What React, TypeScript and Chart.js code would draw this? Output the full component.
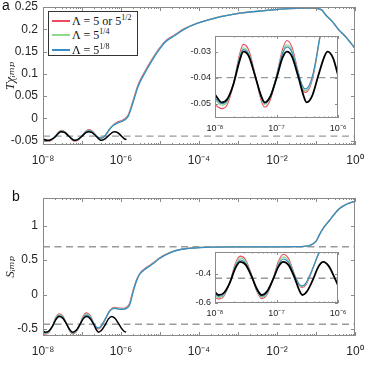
import React, { useEffect, useRef } from 'react';
import { Chart, registerables } from 'chart.js';

Chart.register(...registerables);

// ---------- data (x values are log10 of the horizontal variable) ----------
const mainXLabels = [-8, -6, -4, -2, 0];
const mainXMajor = [-8, -7, -6, -5, -4, -3, -2, -1, 0];
const insetXLabels = [-8, -7, -6];

const aYTicks = [-0.05, 0, 0.05, 0.1, 0.15, 0.2, 0.25];
const aInsetYTicks = [-0.05, -0.04, -0.03];
const bYTicks = [-0.5, 0, 0.5, 1];
const bInsetYTicks = [-0.6, -0.4];

const aRefLevels = [-0.04];
const bRefLevels = [0.693, -0.43];
const bInsetRefLevels = [-0.43];

const aBlackX = [-8.0, -7.89, -7.8, -7.7, -7.6, -7.54, -7.45, -7.35, -7.25, -7.19, -7.1, -7.0, -6.9, -6.83, -6.75, -6.65, -6.55, -6.51, -6.42, -6.32, -6.22, -6.17, -6.08, -6.0, -5.92, -5.86];
const aBlackY = [-0.0465, -0.0495, -0.0482, -0.0425, -0.0335, -0.03, -0.0318, -0.0392, -0.047, -0.0495, -0.0472, -0.0402, -0.0322, -0.03, -0.0318, -0.0393, -0.0477, -0.0495, -0.047, -0.0392, -0.0318, -0.03, -0.0325, -0.039, -0.0455, -0.0478];

const aColX = [-8.0, -7.89, -7.8, -7.7, -7.6, -7.54, -7.45, -7.35, -7.25, -7.19, -7.1, -7.0, -6.9, -6.83, -6.75, -6.65, -6.58, -6.53, -6.46, -6.4, -6.35, -6.3, -6.2, -6.1, -6.0, -5.9, -5.81, -5.68, -5.56, -5.38, -5.21, -5.04, -4.87, -4.62, -4.36, -4.05, -3.75, -3.46, -3.1, -2.77, -2.3, -1.92, -1.5, -1.1, -0.95, -0.85, -0.75, -0.58, -0.41, -0.24, 0];
const aRedY = [-0.0505, -0.0519, -0.0503, -0.0425, -0.031, -0.0272, -0.0295, -0.0385, -0.0487, -0.0513, -0.0485, -0.0393, -0.029, -0.0257, -0.0282, -0.0375, -0.0442, -0.0457, -0.0438, -0.039, -0.0326, -0.0255, -0.015, -0.0088, -0.0058, -0.0012, 0.0085, 0.0425, 0.0755, 0.1062, 0.1318, 0.1542, 0.1727, 0.1875, 0.202, 0.2135, 0.2213, 0.2282, 0.2342, 0.2382, 0.2422, 0.2452, 0.2472, 0.2477, 0.2464, 0.2432, 0.2322, 0.2172, 0.1982, 0.1832, 0.1572];
const aGreenY = [-0.0486, -0.0506, -0.0492, -0.0422, -0.032, -0.0286, -0.0307, -0.0388, -0.0477, -0.0503, -0.0474, -0.0394, -0.03, -0.0273, -0.0295, -0.0378, -0.0436, -0.045, -0.0431, -0.0384, -0.0322, -0.0251, -0.0157, -0.0108, -0.0073, -0.003, 0.0062, 0.0398, 0.0728, 0.1038, 0.1296, 0.1525, 0.1714, 0.1863, 0.2012, 0.2131, 0.2211, 0.2281, 0.2341, 0.2381, 0.2421, 0.2451, 0.2471, 0.2476, 0.2463, 0.2431, 0.2321, 0.2171, 0.1981, 0.1831, 0.1571];
const aBlueY = [-0.0478, -0.05, -0.0487, -0.0422, -0.0326, -0.0292, -0.0312, -0.039, -0.0473, -0.0498, -0.0471, -0.0395, -0.0307, -0.0282, -0.0302, -0.038, -0.043, -0.0443, -0.0425, -0.038, -0.032, -0.025, -0.016, -0.0112, -0.0078, -0.0035, 0.0055, 0.039, 0.072, 0.103, 0.129, 0.152, 0.171, 0.186, 0.201, 0.213, 0.221, 0.228, 0.234, 0.238, 0.242, 0.245, 0.247, 0.2475, 0.2462, 0.243, 0.232, 0.217, 0.198, 0.183, 0.157];

const bBlackX = [-8.0, -7.94, -7.85, -7.76, -7.67, -7.59, -7.5, -7.41, -7.32, -7.24, -7.15, -7.06, -6.97, -6.89, -6.8, -6.71, -6.63, -6.58, -6.5, -6.41, -6.32, -6.24, -6.15, -6.06, -6.0, -5.93, -5.87];
const bBlackY = [-0.525, -0.545, -0.528, -0.462, -0.362, -0.318, -0.338, -0.412, -0.502, -0.545, -0.518, -0.442, -0.352, -0.318, -0.342, -0.422, -0.512, -0.545, -0.518, -0.442, -0.352, -0.318, -0.347, -0.422, -0.478, -0.527, -0.545];

const bColX = [-8.0, -7.94, -7.85, -7.76, -7.67, -7.59, -7.5, -7.41, -7.32, -7.24, -7.15, -7.06, -6.97, -6.89, -6.8, -6.71, -6.63, -6.58, -6.52, -6.45, -6.38, -6.29, -6.21, -6.16, -6.05, -5.95, -5.86, -5.78, -5.69, -5.6, -5.52, -5.4, -5.26, -5.13, -5.01, -4.75, -4.5, -4.07, -3.64, -3.0, -2.5, -2.0, -1.5, -1.17, -1.0, -0.91, -0.79, -0.66, -0.53, -0.41, -0.28, -0.15, 0];
const bRedY = [-0.565, -0.572, -0.55, -0.46, -0.33, -0.278, -0.305, -0.4, -0.52, -0.57, -0.54, -0.44, -0.315, -0.265, -0.298, -0.4, -0.48, -0.495, -0.475, -0.41, -0.33, -0.232, -0.19, -0.185, -0.198, -0.2, -0.185, -0.13, 0.06, 0.215, 0.305, 0.372, 0.425, 0.478, 0.53, 0.607, 0.652, 0.679, 0.688, 0.692, 0.693, 0.693, 0.695, 0.711, 0.771, 0.871, 0.981, 1.071, 1.166, 1.241, 1.291, 1.326, 1.351];
const bGreenY = [-0.55, -0.563, -0.543, -0.461, -0.342, -0.291, -0.317, -0.405, -0.515, -0.561, -0.532, -0.441, -0.33, -0.284, -0.313, -0.405, -0.475, -0.487, -0.466, -0.404, -0.33, -0.237, -0.2, -0.195, -0.205, -0.208, -0.195, -0.143, 0.048, 0.205, 0.299, 0.364, 0.419, 0.473, 0.527, 0.606, 0.651, 0.679, 0.688, 0.692, 0.693, 0.693, 0.695, 0.711, 0.771, 0.871, 0.981, 1.071, 1.166, 1.241, 1.291, 1.326, 1.351];
const bBlueY = [-0.54, -0.555, -0.536, -0.462, -0.352, -0.305, -0.328, -0.41, -0.51, -0.553, -0.526, -0.441, -0.34, -0.298, -0.325, -0.41, -0.472, -0.482, -0.462, -0.402, -0.33, -0.24, -0.205, -0.2, -0.21, -0.213, -0.2, -0.15, 0.04, 0.2, 0.295, 0.36, 0.415, 0.47, 0.525, 0.605, 0.65, 0.678, 0.688, 0.692, 0.693, 0.693, 0.695, 0.71, 0.77, 0.87, 0.98, 1.07, 1.165, 1.24, 1.29, 1.325, 1.35];

// ---------- styles ----------
const RED = '#ec4a62';
const GREEN = '#8fd98f';
const BLUE = '#3a8cc6';
const BLACK = '#000000';
const GRAY = '#9a9a9a';
const FRAME = '#8a8a8a';
const TEXT = '#262626';

const SUP: Record<string, string> = { '-': '\u207B', '0': '\u2070', '1': '\u00B9', '2': '\u00B2', '3': '\u00B3', '4': '\u2074', '5': '\u2075', '6': '\u2076', '7': '\u2077', '8': '\u2078', '9': '\u2079' };
const pow10 = (e: number) => '10' + String(Math.round(e)).split('').map((c) => SUP[c] ?? c).join('');
const fmt = (v: number) => String(Math.round(v * 1000) / 1000);
const zip = (xs: number[], ys: number[]) => xs.map((x, i) => ({ x, y: ys[i] }));

const framePlugin = {
  id: 'frame',
  beforeDraw(chart: any, _a: any, opts: any) {
    if (!opts.fill) return;
    const { left, top, right, bottom } = chart.chartArea;
    const ctx = chart.ctx;
    ctx.save();
    ctx.fillStyle = opts.fill;
    ctx.fillRect(left, top, right - left, bottom - top);
    ctx.restore();
  },
  afterDatasetsDraw(chart: any, _a: any, opts: any) {
    const ctx = chart.ctx;
    const { left, top, right, bottom } = chart.chartArea;
    const xs = chart.scales.x;
    const ys = chart.scales.y;
    const L = opts.len;
    ctx.save();
    ctx.strokeStyle = FRAME;
    ctx.lineWidth = 1;
    ctx.beginPath();
    for (const v of opts.xMajor) {
      const p = Math.round(xs.getPixelForValue(v)) + 0.5;
      ctx.moveTo(p, bottom); ctx.lineTo(p, bottom - L);
      ctx.moveTo(p, top); ctx.lineTo(p, top + L);
    }
    for (let k = Math.floor(xs.min); k < xs.max; k++) {
      for (let m = 2; m <= 9; m++) {
        const p = Math.round(xs.getPixelForValue(k + Math.log10(m))) + 0.5;
        ctx.moveTo(p, bottom); ctx.lineTo(p, bottom - L / 2);
        ctx.moveTo(p, top); ctx.lineTo(p, top + L / 2);
      }
    }
    for (const v of opts.yMajor) {
      const p = Math.round(ys.getPixelForValue(v)) + 0.5;
      ctx.moveTo(left, p); ctx.lineTo(left + L, p);
      ctx.moveTo(right, p); ctx.lineTo(right - L, p);
    }
    ctx.stroke();
    ctx.strokeRect(left + 0.5, top + 0.5, right - left - 1, bottom - top - 1);
    ctx.restore();
  },
};

type Series = { x: number[]; y: number[]; color: string; width: number; order: number };
type Params = {
  series: Series[];
  refs: number[];
  xMin: number; xMax: number; yMin: number; yMax: number;
  xLabels: number[]; xMajor: number[]; yTicks: number[];
  padding: any; yW: number; xH: number;
  fontSize: number; xPad: number; yPad: number;
  tickLen: number; fill?: string;
  yTitle?: string;
};

function buildConfig(p: Params): any {
  const datasets: any[] = [];
  p.refs.forEach((v) =>
    datasets.push({
      data: [{ x: p.xMin, y: v }, { x: p.xMax, y: v }],
      borderColor: GRAY, borderWidth: 1.4, borderDash: [7, 4.5], order: 10, pointRadius: 0,
    })
  );
  p.series.forEach((s) =>
    datasets.push({
      data: zip(s.x, s.y), borderColor: s.color, borderWidth: s.width, order: s.order,
      pointRadius: 0, cubicInterpolationMode: 'monotone', fill: false,
    })
  );
  const font = { family: 'Liberation Sans, Arial, sans-serif', size: p.fontSize };
  return {
    type: 'line',
    data: { datasets },
    options: {
      responsive: false, animation: false, devicePixelRatio: 1, events: [],
      layout: { padding: p.padding },
      plugins: {
        legend: { display: false }, tooltip: { enabled: false },
        frame: { xMajor: p.xMajor, yMajor: p.yTicks, len: p.tickLen, fill: p.fill },
      },
      scales: {
        x: {
          type: 'linear', min: p.xMin, max: p.xMax,
          grid: { display: false, drawTicks: false }, border: { display: false },
          ticks: { font, color: TEXT, padding: p.xPad, autoSkip: false, maxRotation: 0, callback: (v: number) => pow10(v) },
          afterBuildTicks: (s: any) => { s.ticks = p.xLabels.map((v) => ({ value: v })); },
          afterFit: (s: any) => { s.height = p.xH; s.paddingLeft = 0; s.paddingRight = 0; },
        },
        y: {
          type: 'linear', min: p.yMin, max: p.yMax,
          grid: { display: false, drawTicks: false }, border: { display: false },
          ticks: { font, color: TEXT, padding: p.yPad, autoSkip: false, callback: (v: number) => fmt(v) },
          afterBuildTicks: (s: any) => { s.ticks = p.yTicks.map((v) => ({ value: v })); },
          afterFit: (s: any) => { s.width = p.yW; s.paddingTop = 0; s.paddingBottom = 0; },
          title: p.yTitle
            ? { display: true, text: p.yTitle, color: TEXT, padding: { top: 3, bottom: 0 }, font: { family: 'Liberation Serif, DejaVu Serif, serif', size: 13, style: 'italic' } }
            : { display: false },
        },
      },
    },
    plugins: [framePlugin],
  };
}

const aMainSeries: Series[] = [
  { x: aColX, y: aRedY, color: RED, width: 1.3, order: 3 },
  { x: aColX, y: aGreenY, color: GREEN, width: 1.3, order: 2 },
  { x: aColX, y: aBlueY, color: BLUE, width: 1.3, order: 1 },
  { x: aBlackX, y: aBlackY, color: BLACK, width: 1.5, order: 0 },
];
const aInsetSeries: Series[] = [
  { x: aColX, y: aRedY, color: RED, width: 1.1, order: 3 },
  { x: aColX, y: aGreenY, color: GREEN, width: 1.2, order: 2 },
  { x: aColX, y: aBlueY, color: BLUE, width: 1.2, order: 1 },
  { x: aBlackX, y: aBlackY, color: BLACK, width: 1.8, order: 0 },
];
const bMainSeries: Series[] = [
  { x: bColX, y: bRedY, color: RED, width: 1.3, order: 3 },
  { x: bColX, y: bGreenY, color: GREEN, width: 1.3, order: 2 },
  { x: bColX, y: bBlueY, color: BLUE, width: 1.3, order: 1 },
  { x: bBlackX, y: bBlackY, color: BLACK, width: 1.5, order: 0 },
];
const bInsetSeries: Series[] = [
  { x: bColX, y: bRedY, color: RED, width: 1.1, order: 3 },
  { x: bColX, y: bGreenY, color: GREEN, width: 1.2, order: 2 },
  { x: bColX, y: bBlueY, color: BLUE, width: 1.2, order: 1 },
  { x: bBlackX, y: bBlackY, color: BLACK, width: 1.8, order: 0 },
];

const mainA = () => buildConfig({
  series: aMainSeries, refs: aRefLevels, xMin: -8, xMax: 0, yMin: -0.06, yMax: 0.25,
  xLabels: mainXLabels, xMajor: mainXMajor, yTicks: aYTicks,
  padding: { left: 0, top: 7, right: 10, bottom: 0 }, yW: 43, xH: 45,
  fontSize: 12, xPad: 8, yPad: 5, tickLen: 4, yTitle: 'T\u03C7\u1D62\u2098\u209A',
});
const insetA = () => buildConfig({
  series: aInsetSeries, refs: aRefLevels, xMin: -8, xMax: -6, yMin: -0.0555, yMax: -0.024,
  xLabels: insetXLabels, xMajor: insetXLabels, yTicks: aInsetYTicks,
  padding: { left: 0, top: 6, right: 22, bottom: 0 }, yW: 30, xH: 22,
  fontSize: 9, xPad: 5, yPad: 4, tickLen: 3, fill: '#ffffff',
});
const mainB = () => buildConfig({
  series: bMainSeries, refs: bRefLevels, xMin: -8, xMax: 0, yMin: -0.6, yMax: 1.4,
  xLabels: mainXLabels, xMajor: mainXMajor, yTicks: bYTicks,
  padding: { left: 0, top: 8, right: 10, bottom: 0 }, yW: 43, xH: 45,
  fontSize: 12, xPad: 8, yPad: 5, tickLen: 4, yTitle: 'S\u1D62\u2098\u209A',
});
const insetB = () => buildConfig({
  series: bInsetSeries, refs: bInsetRefLevels, xMin: -8, xMax: -6, yMin: -0.6, yMax: -0.25,
  xLabels: insetXLabels, xMajor: insetXLabels, yTicks: bInsetYTicks,
  padding: { left: 0, top: 12, right: 22, bottom: 0 }, yW: 30, xH: 22,
  fontSize: 9, xPad: 5, yPad: 4, tickLen: 3, fill: '#ffffff',
});

function ChartBox(props: { left: number; top: number; width: number; height: number; make: () => any }) {
  const ref = useRef<HTMLCanvasElement | null>(null);
  useEffect(() => {
    const chart = new Chart(ref.current as HTMLCanvasElement, props.make());
    return () => chart.destroy();
  }, []);
  return (
    <canvas
      ref={ref}
      width={props.width}
      height={props.height}
      style={{ position: 'absolute', left: props.left, top: props.top, width: props.width, height: props.height }}
    />
  );
}

const legendRows = [
  { color: RED, base: '\u039B = 5 or 5', sup: '1/2' },
  { color: GREEN, base: '\u039B = 5', sup: '1/4' },
  { color: BLUE, base: '\u039B = 5', sup: '1/8' },
];

function Legend() {
  const rowTops = [1, 15, 30];
  return (
    <div style={{ position: 'absolute', left: 48, top: 11, width: 90, height: 45, boxSizing: 'border-box', border: '1px solid #333', background: '#fff', fontFamily: 'Liberation Serif, DejaVu Serif, serif', fontSize: 12, color: '#111' }}>
      {legendRows.map((r, i) => (
        <div key={i} style={{ position: 'absolute', left: 0, top: rowTops[i], height: 14, width: 88, lineHeight: '14px', whiteSpace: 'nowrap' }}>
          <div style={{ position: 'absolute', left: 3, top: 7, width: 18, height: 1.5, background: r.color }} />
          <span style={{ position: 'absolute', left: 23, top: 1 }}>
            {r.base}
            <span style={{ fontSize: 8, position: 'relative', top: -5 }}>{r.sup}</span>
          </span>
        </div>
      ))}
    </div>
  );
}

export default function App() {
  const letter: React.CSSProperties = { position: 'absolute', fontFamily: 'Liberation Sans, Arial, sans-serif', fontSize: 14, color: '#111', lineHeight: '16px' };
  return (
    <div style={{ position: 'absolute', left: 0, top: 0, width: 365, height: 381, background: '#fff', overflow: 'hidden' }}>
      <ChartBox left={0} top={0} width={365} height={190} make={mainA} />
      <ChartBox left={185} top={30} width={175} height={110} make={insetA} />
      <ChartBox left={0} top={190} width={365} height={191} make={mainB} />
      <ChartBox left={185} top={240} width={175} height={85} make={insetB} />
      <Legend />
      <div style={{ ...letter, left: 2, top: -3 }}>a</div>
      <div style={{ ...letter, left: 12, top: 188 }}>b</div>
    </div>
  );
}
